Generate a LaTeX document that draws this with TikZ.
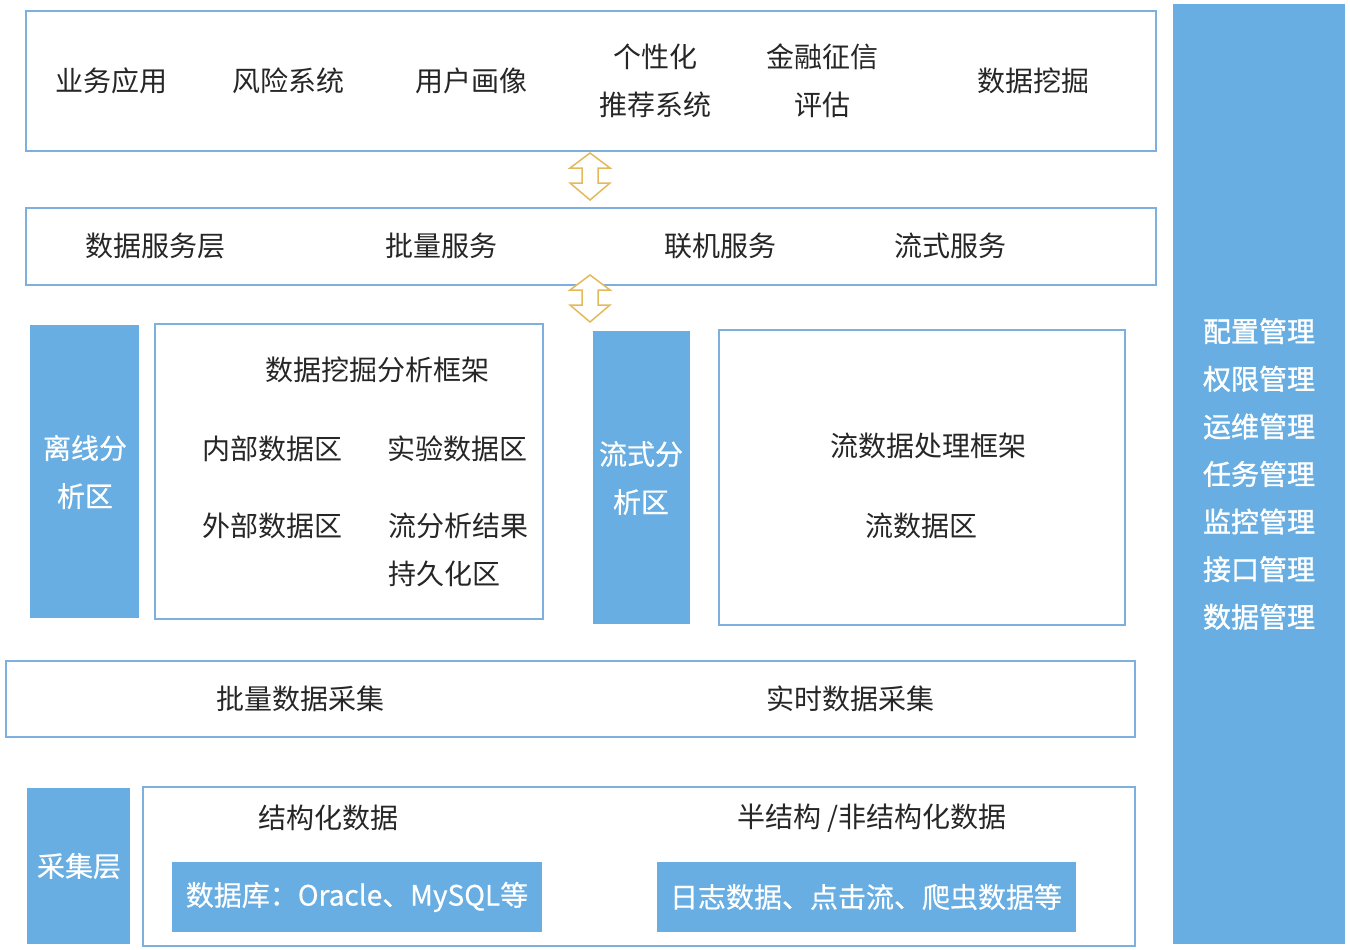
\documentclass[tikz,border=0pt]{standalone}
\usepackage{fontspec}
\setmainfont{Noto Sans CJK SC}
\newfontfamily\medfont[FakeBold=1.2]{Noto Sans CJK SC}
\newfontfamily\semifont[FakeBold=0.5]{Noto Sans CJK SC}
\definecolor{edgeblue}{RGB}{125,176,222}
\definecolor{fillblue}{RGB}{104,174,226}
\definecolor{gold}{RGB}{226,186,92}
\begin{document}
\begin{tikzpicture}[x=1pt,y=-1pt,
  frame/.style={draw=edgeblue,line width=1.6pt,fill=white},
  solid box/.style={fill=fillblue,draw=none},
  lbl/.style={font=\fontsize{28}{48}\selectfont,inner sep=0pt,align=center,text=black!85},
  wlbl/.style={font=\semifont\fontsize{28}{48}\selectfont,inner sep=0pt,align=center,text=white},
  dblarrow/.style={draw=gold,line width=1.5pt,fill=white,line join=miter}]
\useasboundingbox (0,0) rectangle (1350,950);
% boxes
\draw[frame] (26,11) rectangle (1156,151);
\draw[frame] (26,208) rectangle (1156,285);
\fill[solid box] (30,325) rectangle (139,618);
\draw[frame] (155,324) rectangle (543,619);
\fill[solid box] (593,331) rectangle (690,624);
\draw[frame] (719,330) rectangle (1125,625);
\draw[frame] (6,661) rectangle (1135,737);
\fill[solid box] (27,788) rectangle (130,944);
\draw[frame] (143,787) rectangle (1135,946);
\fill[solid box] (172,862) rectangle (542,932);
\fill[solid box] (657,862) rectangle (1076,932);
\fill[solid box] (1173,4) rectangle (1345,944);
% arrows
\draw[dblarrow] (590,153) -- (610,168) -- (598,168) -- (598,183) -- (610,183) -- (590,200) -- (570,183) -- (582,183) -- (582,168) -- (570,168) -- cycle;
\draw[dblarrow] (590,275) -- (610,290) -- (598,290) -- (598,305) -- (610,305) -- (590,322) -- (570,305) -- (582,305) -- (582,290) -- (570,290) -- cycle;
% top layer
\node[lbl] (a1) at (111,81) {业务应用};
\node[lbl] (a2) at (288,81) {风险系统};
\node[lbl] (a3) at (471,81) {用户画像};
\node[lbl] (a4) at (655,81) {个性化\\推荐系统};
\node[lbl] (a5) at (822,81) {金融征信\\评估};
\node[lbl] (a6) at (1033,81) {数据挖掘};
% service layer
\node[lbl] (s1) at (155,246) {数据服务层};
\node[lbl] (s2) at (441,246) {批量服务};
\node[lbl] (s3) at (720,246) {联机服务};
\node[lbl] (s4) at (950,246) {流式服务};
% offline
\node[wlbl] (off) at (85,472) {离线分\\析区};
\node[lbl] (m0) at (377,370) {数据挖掘分析框架};
\node[lbl] (m1) at (272,449) {内部数据区};
\node[lbl] (m2) at (457,449) {实验数据区};
\node[lbl] (m3) at (272,526) {外部数据区};
\node[lbl,align=left,anchor=west] (m4) at (388,550) {流分析结果\\持久化区};
% streaming
\node[wlbl] (str) at (641,478) {流式分\\析区};
\node[lbl] (f1) at (928,446) {流数据处理框架};
\node[lbl] (f2) at (921,526) {流数据区};
% collection
\node[lbl] (c1) at (300,699) {批量数据采集};
\node[lbl] (c2) at (850,699) {实时数据采集};
\node[wlbl] (cl) at (79,866) {采集层};
\node[lbl] (d1) at (328,818) {结构化数据};
\node[lbl] (d2) at (872,818) {半结构 /非结构化数据};
\node[wlbl] (db) at (357,897) {数据库：Oracle、MySQL等};
\node[wlbl] (lg) at (866,897) {日志数据、点击流、爬虫数据等};
% right panel
\node[wlbl,font=\medfont\fontsize{28}{47.6}\selectfont] (r) at (1259,474) {配置管理\\权限管理\\运维管理\\任务管理\\监控管理\\接口管理\\数据管理};
\end{tikzpicture}
\end{document}
